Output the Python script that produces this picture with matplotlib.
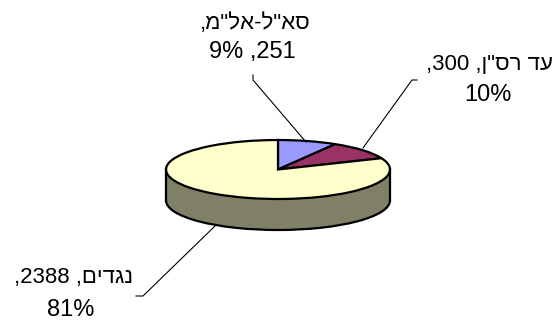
import matplotlib
matplotlib.use('Agg')
import matplotlib.pyplot as plt

plt.rcParams['font.family'] = ['Liberation Sans', 'DejaVu Sans']

W, H = 560, 324

# categories in reading order, values and shares as printed on the chart
categories = ['סא"ל-אל"מ', 'עד רס"ן', 'נגדים']
values = [251, 300, 2388]
percents = [9, 10, 81]
colors = ['#9999FF', '#993366', '#FFFFCC']
wall_color = '#808066'

# pie ellipse in pixels
cx, cy, rx, ry = 278, 169.5, 112, 29.5
depth = 31 / ry

fig = plt.figure(figsize=(W / 100, H / 100), dpi=100)

ax = fig.add_axes([(cx - rx) / W, 1 - (cy + ry) / H, 2 * rx / W, 2 * ry / H])
edge = dict(edgecolor='black', linewidth=1.6, clip_on=False)

# bottom of the cylinder, then its side, then the real slices on top
ax.pie([1], colors=[wall_color], center=(0, -depth), wedgeprops=edge)
ax.fill_between([-1, 1], [-depth, -depth], [0, 0], color=wall_color, lw=0, clip_on=False)
ax.plot([-1, -1], [0, -depth], color='black', lw=1.6, clip_on=False)
ax.plot([1, 1], [0, -depth], color='black', lw=1.6, clip_on=False)
ax.pie(values, colors=colors, startangle=90, counterclock=False, wedgeprops=edge)
ax.set_aspect('auto')
ax.set_xlim(-1, 1)
ax.set_ylim(-1, 1)

# overlay in pixel coordinates for the labels and leader lines
over = fig.add_axes([0, 0, 1, 1], facecolor='none')
over.set_xlim(0, W)
over.set_ylim(H, 0)
over.axis('off')

over.plot([253, 253, 306], [75, 80, 142], color='black', lw=0.8)
over.plot([417, 412, 363], [80, 80, 148], color='black', lw=0.8)
over.plot([136, 143, 215], [296, 296, 226], color='black', lw=0.8)


def rev(s):
    # matplotlib has no bidi layout, so Hebrew goes in visual order
    return s[::-1]


fs = 17
fs_heb = 16
over.text(255.5, 23, ',' + rev(categories[0]), fontsize=fs_heb, ha='center', va='center')
over.text(252, 52, f'{percents[0]}% ,{values[0]}', fontsize=fs, ha='center', va='center')
over.text(490, 65, f',{values[1]} ,' + rev(categories[1]), fontsize=fs_heb, ha='center', va='center')
over.text(488, 95, f'{percents[1]}%', fontsize=fs, ha='center', va='center')
over.text(74, 278, f',{values[2]} ,' + rev(categories[2]), fontsize=fs_heb, ha='center', va='center')
over.text(71, 310, f'{percents[2]}%', fontsize=fs, ha='center', va='center')

fig.savefig('out.png', dpi=100)
